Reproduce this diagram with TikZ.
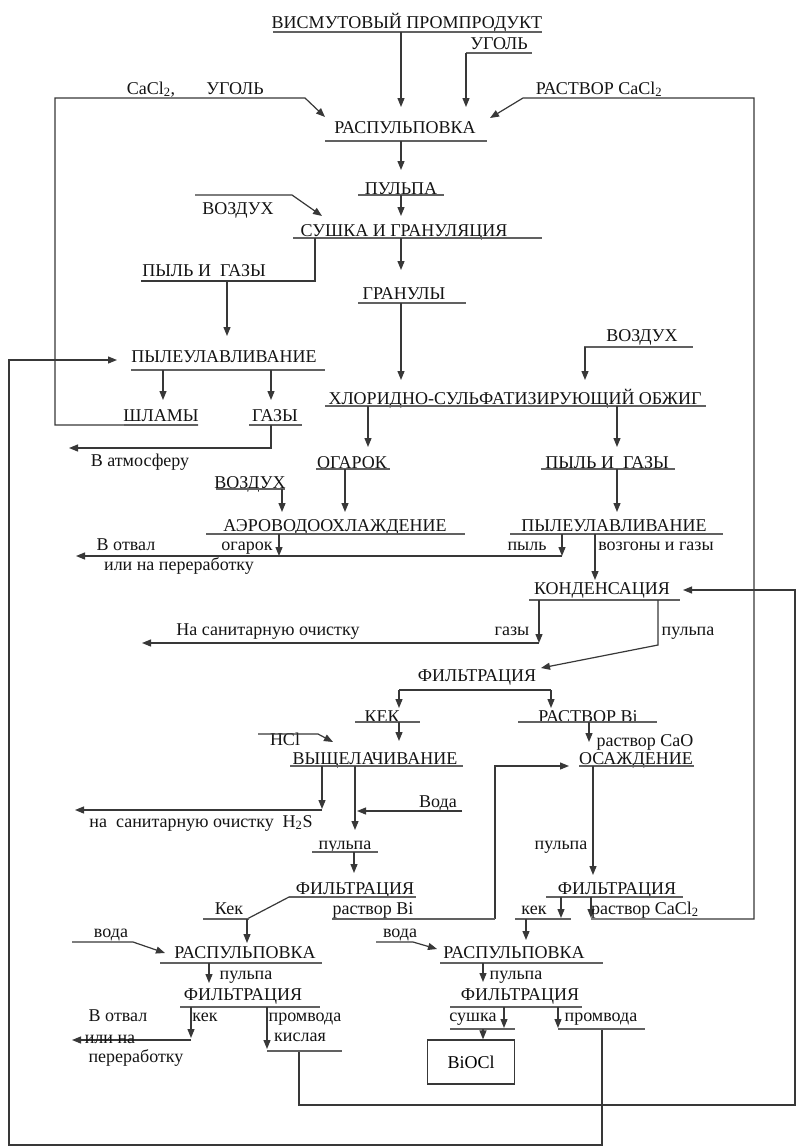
\documentclass[tikz,border=0pt]{standalone}
\usepackage{fontspec}
\setmainfont{Liberation Serif}
\usetikzlibrary{arrows.meta}
\tikzset{
  lbl/.style={inner sep=0pt, text height=12.5pt, text depth=0pt, font=\fontsize{18}{21}\selectfont, text=black!92},
  ul/.style={line width=1.6pt, draw=black!62},
  ln/.style={line width=1.2pt, draw=black!78},
  arr/.style={ln, -{Triangle[length=9pt,width=7pt]}},
  boxst/.style={draw=black!78, line width=1.2pt, minimum width=87pt, minimum height=44pt, inner sep=0pt, font=\fontsize{18}{21}\selectfont},
}
\begin{document}
\begin{tikzpicture}[x=1pt,y=-1pt]
\useasboundingbox (0,0) rectangle (797,1148);
\fill[white] (0,0) rectangle (797,1148);

% top
\node[lbl] (vp) at (407,22) {ВИСМУТОВЫЙ ПРОМПРОДУКТ};
\draw[ul] (273,32) -- (542,32);
\node[lbl] (ug1) at (499,43) {УГОЛЬ};
\draw[ul] (466,53) -- (532,53);
\draw[arr] (401,32) -- (401,107);
\draw[arr] (466,53) -- (466,107);
\node[lbl] (cacl) at (151,88) {CaCl\textsubscript{2},};
\node[lbl] (ug2) at (235,88) {УГОЛЬ};
\node[lbl] (rcacl) at (599,88) {РАСТВОР CaCl\textsubscript{2}};
\node[lbl] (rasp1) at (405,127) {РАСПУЛЬПОВКА};
\draw[ul] (325,141) -- (487,141);
\draw[arr] (198,425) -- (55,425) -- (55,98) -- (305,98) -- (325,117);
\draw[arr] (591,919) -- (754,919) -- (754,98) -- (523,98) -- (490,118);
\draw[arr] (401,141) -- (401,170);
\node[lbl] (pulpa1) at (401,188) {ПУЛЬПА};
\draw[ul] (358,195) -- (444,195);
\draw[arr] (401,195) -- (401,216);
\node[lbl] (vozd1) at (238,208) {ВОЗДУХ};
\draw[arr] (195,195) -- (292,195) -- (322,216);
\node[lbl] (sush) at (404,230) {СУШКА И ГРАНУЛЯЦИЯ};
\draw[ul] (293,238) -- (542,238);
\draw[ln] (315,238) -- (315,281) -- (141,281);
\node[lbl] (pg1) at (204,270) {ПЫЛЬ И\ \ ГАЗЫ};
\draw[arr] (227,281) -- (227,336);
\draw[arr] (401,238) -- (401,270);
\node[lbl] (gran) at (404,293) {ГРАНУЛЫ};
\draw[ul] (358,303) -- (466,303);
\draw[arr] (401,303) -- (401,380);
\node[lbl] (vozd2) at (642,335) {ВОЗДУХ};
\draw[ul] (584,347) -- (693,347);
\draw[arr] (585,347) -- (585,380);
\node[lbl] (pu1) at (224,356) {ПЫЛЕУЛАВЛИВАНИЕ};
\draw[ul] (131,370) -- (325,370);
\draw[arr] (602,1029) -- (602,1145) -- (9,1145) -- (9,360) -- (117,360);
\draw[arr] (163,370) -- (163,400);
\draw[arr] (271,370) -- (271,400);
\node[lbl] (hso) at (515,398) {ХЛОРИДНО-СУЛЬФАТИЗИРУЮЩИЙ ОБЖИГ};
\draw[ul] (325,406) -- (706,406);
\node[lbl] (shl) at (161,415) {ШЛАМЫ};
\draw[ul] (124,425) -- (198,425);
\node[lbl] (gaz1) at (275,415) {ГАЗЫ};
\draw[ul] (249,425) -- (302,425);
\draw[arr] (271,425) -- (271,448) -- (69,448);
\node[lbl] (atm) at (140,460) {В атмосферу};
\draw[arr] (368,406) -- (368,447);
\node[lbl] (og) at (352,462) {ОГАРОК};
\draw[ul] (316,469) -- (390,469);
\draw[arr] (617,406) -- (617,447);
\node[lbl] (pg2) at (607,462) {ПЫЛЬ И\ \ ГАЗЫ};
\draw[ul] (541,469) -- (675,469);
\node[lbl] (vozd3) at (250,482) {ВОЗДУХ};
\draw[ul] (216,489) -- (285,489);
\draw[arr] (282,489) -- (282,512);
\draw[arr] (345,469) -- (345,512);
\node[lbl] (aero) at (335,525) {АЭРОВОДООХЛАЖДЕНИЕ};
\draw[ul] (206,534) -- (465,534);
\draw[arr] (617,469) -- (617,512);
\node[lbl] (pu2) at (614,525) {ПЫЛЕУЛАВЛИВАНИЕ};
\draw[ul] (510,534) -- (723,534);
\node[lbl] (otv1) at (126,544) {В отвал};
\node[lbl] (ogl) at (247,544) {огарок};
\draw[arr] (279,534) -- (279,556);
\node[lbl] (pyl) at (527,544) {пыль};
\draw[arr] (562,534) -- (562,556);
\draw[arr] (562,556) -- (76,556);
\node[lbl] (pererab1) at (179,564) {или на переработку};
\node[lbl] (vozg) at (656,544) {возгоны и газы};
\draw[arr] (595,534) -- (595,580);
\node[lbl] (kond) at (602,588) {КОНДЕНСАЦИЯ};
\draw[ul] (529,600) -- (680,600);
\draw[arr] (299,1051) -- (299,1105) -- (795,1105) -- (795,590) -- (683,590);
\draw[arr] (539,600) -- (539,643);
\draw[arr] (539,643) -- (142,643);
\node[lbl] (san1) at (268,629) {На санитарную очистку};
\node[lbl] (gaz2) at (512,629) {газы};
\node[lbl] (pulp2) at (688,629) {пульпа};
\draw[arr] (658,600) -- (658,645) -- (541,668);
\node[lbl] (f1) at (477,675) {ФИЛЬТРАЦИЯ};
\draw[ln] (399,690) -- (551,690);
\draw[arr] (399,690) -- (399,708);
\draw[arr] (551,690) -- (551,708);
\node[lbl] (kek1) at (382,716) {КЕК};
\draw[ul] (355,722) -- (420,722);
\node[lbl] (rbi1) at (588,716) {РАСТВОР Bi};
\draw[ul] (518,722) -- (657,722);
\draw[arr] (399,722) -- (399,741);
\node[lbl] (hcl) at (285,739) {HCl};
\draw[arr] (258,734) -- (318,734) -- (333,742);
\node[lbl] (vysh) at (375,758) {ВЫЩЕЛАЧИВАНИЕ};
\draw[ul] (290,766) -- (463,766);
\draw[arr] (589,722) -- (589,742);
\node[lbl] (rcao) at (645,740) {раствор CaO};
\node[lbl] (osazh) at (636,758) {ОСАЖДЕНИЕ};
\draw[ul] (579,766) -- (694,766);
\draw[arr] (495,919) -- (495,766) -- (569,766);
\draw[arr] (322,766) -- (322,809);
\draw[arr] (322,810) -- (75,810);
\node[lbl] (san2) at (201,821) {на\ \ санитарную очистку\ \ H\textsubscript{2}S};
\draw[arr] (355,766) -- (355,830);
\node[lbl] (voda1) at (438,801) {Вода};
\draw[arr] (462,811) -- (357,811);
\node[lbl] (pulp3) at (345,843) {пульпа};
\draw[ul] (312,852) -- (378,852);
\draw[arr] (354,852) -- (354,873);
\node[lbl] (f2) at (355,888) {ФИЛЬТРАЦИЯ};
\draw[ul] (289,897) -- (416,897);
\draw[ln] (289,897) -- (247,919);
\node[lbl] (kek2) at (229,908) {Кек};
\draw[ul] (203,919) -- (249,919);
\draw[arr] (247,919) -- (247,943);
\node[lbl] (rbi2) at (373,908) {раствор Bi};
\draw[ul] (332,919) -- (495,919);
\draw[arr] (593,766) -- (593,875);
\node[lbl] (pulp4) at (561,843) {пульпа};
\node[lbl] (f3) at (617,888) {ФИЛЬТРАЦИЯ};
\draw[ul] (546,897) -- (683,897);
\draw[arr] (561,897) -- (561,918);
\draw[arr] (591,897) -- (591,918);
\node[lbl] (kek3) at (534,908) {кек};
\draw[ul] (515,919) -- (571,919);
\node[lbl] (rcacl2) at (645,908) {раствор CaCl\textsubscript{2}};
\draw[arr] (526,919) -- (526,940);
\node[lbl] (voda2) at (111,931) {вода};
\draw[arr] (72,942) -- (133,942) -- (165,953);
\node[lbl] (rasp2) at (245,952) {РАСПУЛЬПОВКА};
\draw[ul] (160,963) -- (322,963);
\node[lbl] (voda3) at (400,931) {вода};
\draw[arr] (376,942) -- (413,942) -- (437,949);
\node[lbl] (rasp3) at (514,952) {РАСПУЛЬПОВКА};
\draw[ul] (440,963) -- (603,963);
\draw[arr] (209,963) -- (209,983);
\node[lbl] (pulp5) at (246,973) {пульпа};
\draw[arr] (483,963) -- (483,982);
\node[lbl] (pulp6) at (516,973) {пульпа};
\node[lbl] (f4) at (243,994) {ФИЛЬТРАЦИЯ};
\draw[ul] (180,1007) -- (320,1007);
\node[lbl] (f5) at (520,994) {ФИЛЬТРАЦИЯ};
\draw[ul] (450,1007) -- (582,1007);
\node[lbl] (otv2) at (118,1015) {В отвал};
\node[lbl] (kek4) at (205,1015) {кек};
\draw[arr] (191,1007) -- (191,1038);
\draw[arr] (191,1040) -- (72,1040);
\node[lbl] (ilina) at (110,1037) {или на};
\node[lbl] (pererab2) at (136,1056) {переработку};
\node[lbl] (promv1) at (305,1015) {промвода};
\draw[arr] (267,1007) -- (267,1049);
\node[lbl] (kisl) at (300,1035) {кислая};
\draw[ul] (267,1051) -- (342,1051);
\node[lbl] (sushka) at (473,1015) {сушка};
\draw[arr] (504,1007) -- (504,1028);
\draw[ul] (450,1029) -- (515,1029);
\node[boxst] (bioc) at (471,1062) {BiOCl};
\draw[arr] (483,1029) -- (bioc.north -| 483,0);
\draw[arr] (558,1007) -- (558,1028);
\node[lbl] (promv2) at (601,1015) {промвода};
\draw[ul] (558,1029) -- (645,1029);
\end{tikzpicture}
\end{document}
